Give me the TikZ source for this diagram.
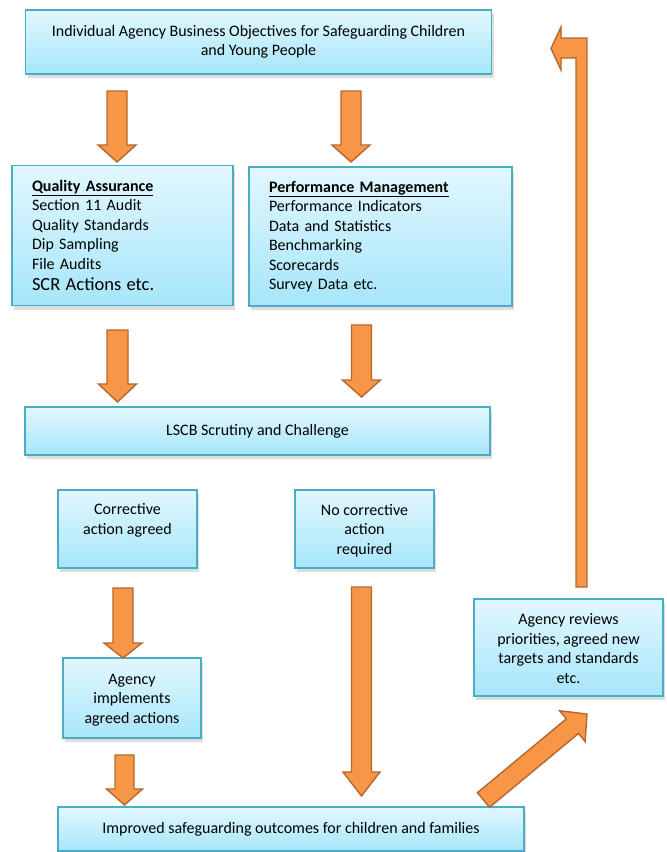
\documentclass[tikz,border=0pt]{standalone}
\usepackage{fontspec}
\setmainfont{Carlito}
\usetikzlibrary{calc,shadows}

\definecolor{boxtop}{HTML}{E2F7FE}
\definecolor{boxbot}{HTML}{A6E6FA}
\definecolor{boxline}{HTML}{4BACC6}
\definecolor{arrfill}{HTML}{F79646}
\definecolor{arrline}{HTML}{B6672D}

% block arrow: from, to, half shaft, half head, head length
\newcommand{\blockarrow}[5]{%
  \coordinate (ba-c) at ($(#2)!#5!(#1)$);
  \draw[blockarr] ($(#1)!#3!90:(#2)$) -- ($(ba-c)!#3!-90:(#1)$) -- ($(ba-c)!#4!-90:(#1)$)
    -- (#2) -- ($(ba-c)!#4!90:(#1)$) -- ($(ba-c)!#3!90:(#1)$) -- ($(#1)!#3!-90:(#2)$) -- cycle;
}

\begin{document}
\begin{tikzpicture}[x=1pt,y=-1pt,
    box/.style={draw=boxline, line width=1.6pt, top color=boxtop, bottom color=boxbot,
      drop shadow={shadow xshift=2pt, shadow yshift=-4pt, opacity=0.22, fill=black!60},
      inner sep=0pt, font=\fontsize{16}{19.5}\selectfont, align=center},
    blockarr/.style={fill=arrfill, draw=arrline, line width=1.4pt, line join=miter}]
  \clip (0,0) rectangle (667,852);

  % Boxes
  \node[box, minimum width=466pt, minimum height=64pt] (top) at (258.5,42)
    {Individual Agency Business Objectives for Safeguarding Children\\and Young People};
  \node[box, minimum width=221pt, minimum height=140pt, text width=181pt, align=left] (qa) at (122.5,235.5)
    {\underline{\textbf{Quality Assurance}}\\Section 11 Audit\\Quality Standards\\Dip Sampling\\File Audits\\[2pt]
     {\fontsize{18.5}{21}\selectfont SCR Actions etc.}};
  \node[box, minimum width=263pt, minimum height=139pt, text width=223pt, align=left] (pm) at (380.5,236.5)
    {\underline{\textbf{Performance Management}}\\Performance Indicators\\Data and Statistics\\Benchmarking\\Scorecards\\Survey Data etc.};
  \node[box, minimum width=465pt, minimum height=48pt] (lscb) at (257.5,431)
    {LSCB Scrutiny and Challenge};
  \node[box, minimum width=139pt, minimum height=78pt, text height=10pt, text depth=0pt] (corr) at (127.5,529)
    {Corrective\\action agreed};
  \node[box, minimum width=139pt, minimum height=78pt, text height=50pt, text depth=0pt] (nocorr) at (364.5,529)
    {No corrective\\action\\required};
  \node[box, minimum width=138pt, minimum height=80pt, text height=50pt, text depth=0pt] (impl) at (132,698)
    {Agency\\implements\\agreed actions};
  \node[box, minimum width=189pt, minimum height=97pt, text height=71pt, text depth=0pt] (rev) at (568.5,647.5)
    {Agency reviews\\priorities, agreed new\\targets and standards\\etc.};
  \node[box, minimum width=466pt, minimum height=44pt] (outc) at (291,829)
    {Improved safeguarding outcomes for children and families};

  % Arrow ends
  \coordinate (a1s) at (117,91);    \coordinate (a1e) at (117,162);
  \coordinate (a2s) at (351,91);    \coordinate (a2e) at (351,162);
  \coordinate (a3s) at (117.5,330); \coordinate (a3e) at (117.5,402);
  \coordinate (a4s) at (361.5,325); \coordinate (a4e) at (361.5,397);
  \coordinate (a5s) at (123,588);   \coordinate (a5e) at (123,658);
  \coordinate (a6s) at (124.5,755); \coordinate (a6e) at (124.5,805);
  \coordinate (a7s) at (361.5,587); \coordinate (a7e) at (361.5,796);
  \coordinate (a8s) at (483.5,800); \coordinate (a8e) at (587,714);
  \coordinate (rets) at (581.5,587);

  % Arrows
  \blockarrow{a1s}{a1e}{10pt}{19pt}{17pt}
  \blockarrow{a2s}{a2e}{10pt}{19pt}{17pt}
  \blockarrow{a3s}{a3e}{10.5pt}{19pt}{18pt}
  \blockarrow{a4s}{a4e}{10pt}{19pt}{17pt}
  \blockarrow{a5s}{a5e}{10pt}{19pt}{15pt}
  \blockarrow{a6s}{a6e}{9.5pt}{18pt}{16pt}
  \blockarrow{a7s}{a7e}{10pt}{18.5pt}{24pt}
  \blockarrow{a8s}{a8e}{9.5pt}{20pt}{19pt}

  % Return arrow
  \draw[blockarr] (rets) ++(-5.5,0) -- ++(0,-529) -- ++(-15,0) -- ++(0,12) -- ++(-10,-21.5)
    -- ++(10,-21.5) -- ++(0,11) -- ++(26,0) -- ++(0,549) -- cycle;
\end{tikzpicture}
\end{document}
